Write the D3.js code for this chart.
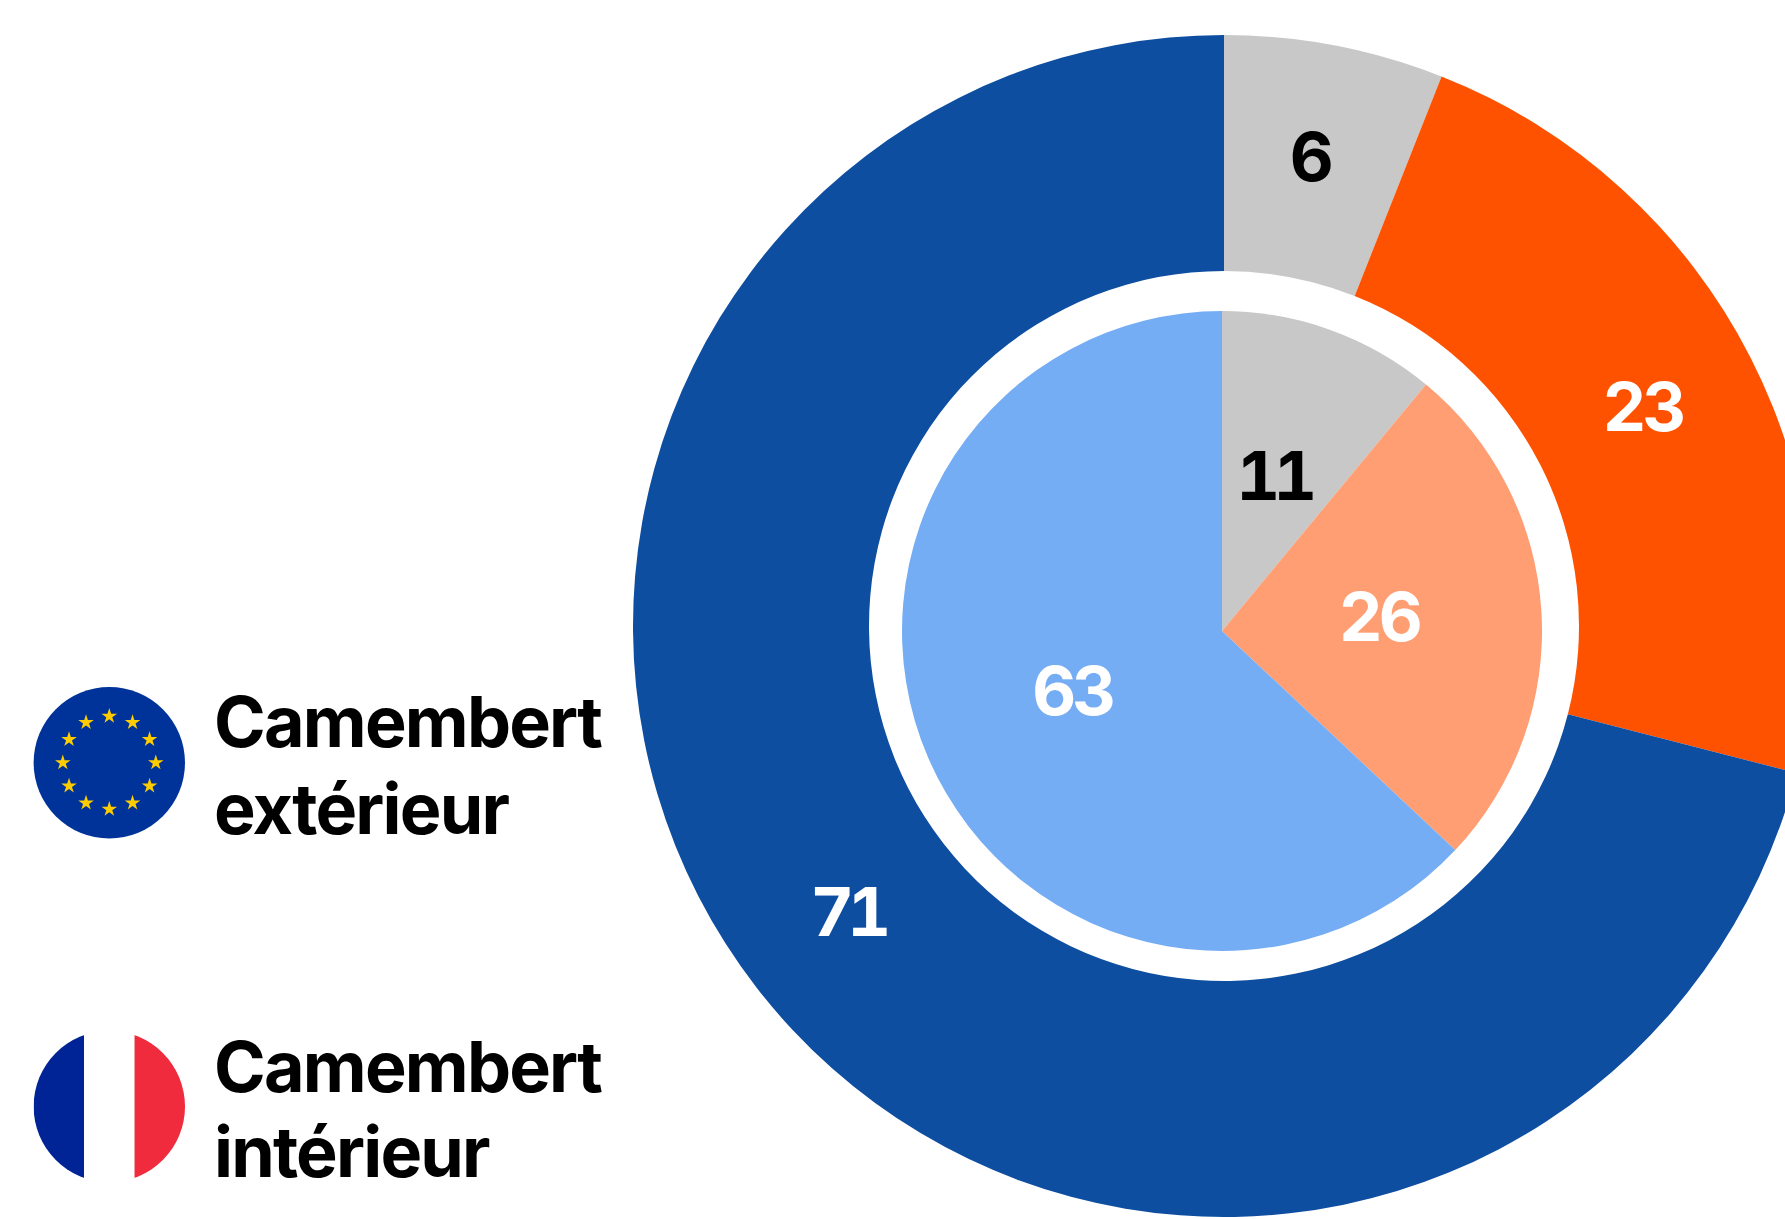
<!DOCTYPE html>
<html><head><meta charset="utf-8">
<script src="https://cdnjs.cloudflare.com/ajax/libs/d3/7.8.5/d3.min.js"></script>
<style>html,body{margin:0;padding:0;background:#fff}svg{display:block}text{font-family:Inter,sans-serif;font-weight:750}</style>
</head><body><svg id="c" width="1785" height="1219"></svg>
<script>
const outerLabels = ["Autres", "Orange", "Bleu"];
const outerValues = [6, 23, 71];
const outerColors = ["#C8C8C8", "#FF5200", "#0E4EA1"];
const outerText = ["#000", "#fff", "#fff"];
const innerValues = [11, 26, 63];
const innerColors = ["#C8C8C8", "#FF9E72", "#75ADF5"];
const innerText = ["#000", "#fff", "#fff"];
const legendLines = [["Camembert", "extérieur"], ["Camembert", "intérieur"]];
const starIndex = d3.range(12);

const svg = d3.select("#c");
const pie = d3.pie().sort(null).value(d => d);

function ring(cx, cy, r0, r1, values, colors, textColors) {
  const arc = d3.arc().innerRadius(r0).outerRadius(r1);
  const lab = d3.arc().innerRadius(r0 || r1 / 2).outerRadius(r0 ? r1 : r1 / 2);
  const g = svg.append("g").attr("transform", `translate(${cx},${cy})`);
  const arcs = pie(values);
  g.selectAll("path").data(arcs).join("path").attr("d", arc).attr("fill", (d, i) => colors[i]);
  g.selectAll("text").data(arcs).join("text")
    .attr("x", d => lab.centroid(d)[0] - 3)
    .attr("y", d => lab.centroid(d)[1] + 20)
    .attr("text-anchor", "middle").attr("font-size", 68)
    .style("font-feature-settings", "'tnum'")
    .attr("letter-spacing", d => String(d.value).includes("1") ? -7 : -4)
    .attr("fill", (d, i) => textColors[i]).text(d => d.value);
}
ring(1224, 626, 355, 591, outerValues, outerColors, outerText);
ring(1222, 631, 0, 320, innerValues, innerColors, innerText);

const flagR = 75.7, flagX = 109.3;
const eu = svg.append("g").attr("transform", `translate(${flagX},762.7)`);
eu.append("circle").attr("r", flagR).attr("fill", "#003399");
eu.selectAll("path").data(starIndex).join("path")
  .attr("d", d3.symbol(d3.symbolStar, 75))
  .attr("fill", "#FFCC00")
  .attr("transform", d => {
    const a = d / 12 * 2 * Math.PI;
    return `translate(${46.5 * Math.sin(a)},${-46.5 * Math.cos(a)})`;
  });

svg.append("clipPath").attr("id", "fr").append("circle").attr("r", flagR);
const fr = svg.append("g").attr("transform", `translate(${flagX},1106.5)`).attr("clip-path", "url(#fr)");
const stripe = d3.scaleBand().domain(["b", "w", "r"]).range([-flagR, flagR]);
const flagColors = { b: "#002395", w: "#FFFFFF", r: "#EF2B3D" };
fr.selectAll("rect").data(stripe.domain()).join("rect")
  .attr("x", d => stripe(d)).attr("y", -flagR)
  .attr("width", stripe.bandwidth()).attr("height", 2 * flagR)
  .attr("fill", d => flagColors[d]);

const baselines = [[747, 833.5], [1092, 1177]];
legendLines.forEach((lines, i) => lines.forEach((t, j) => {
  svg.append("text").attr("x", 214).attr("y", baselines[i][j])
    .attr("font-size", 70).attr("letter-spacing", -1.8).attr("fill", "#000").text(t);
}));
</script></body></html>
